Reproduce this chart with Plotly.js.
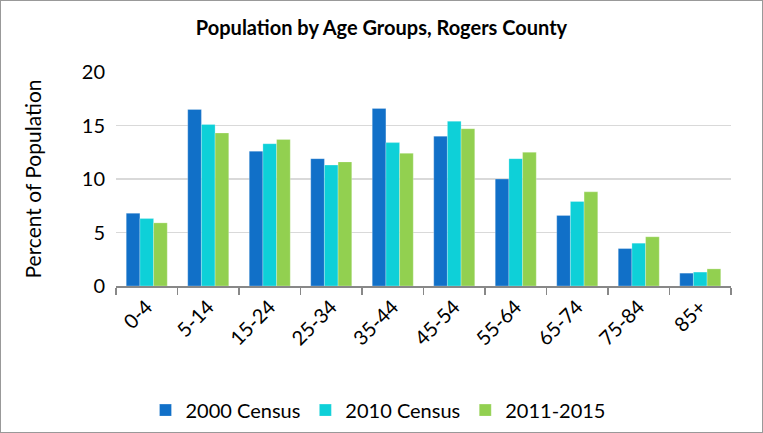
<!DOCTYPE html>
<html><head><meta charset="utf-8">
<script src="https://cdn.plot.ly/plotly-3.0.1.min.js"></script>
<style>
html,body{margin:0;padding:0;background:#fff;}
#wrap{width:761px;height:431px;border:1px solid #999;}
#chart{width:761px;height:431px;}
</style></head>
<body><div id="wrap"><div id="chart"></div></div>
<script>
const categories = ["0-4","5-14","15-24","25-34","35-44","45-54","55-64","65-74","75-84","85+"];
const census2000 = [6.8,16.5,12.6,11.9,16.6,14.0,10.0,6.6,3.5,1.2];
const census2010 = [6.3,15.1,13.3,11.3,13.4,15.4,11.9,7.9,4.0,1.3];
const acs2011_2015 = [5.9,14.3,13.7,11.6,12.4,14.7,12.5,8.8,4.6,1.6];
const seriesNames = ["2000 Census","2010 Census","2011-2015"];
const colors = ["#1170C8","#0ED0D8","#92D050"];
const font = "Lato, 'Liberation Sans', sans-serif";

const data = [census2000, census2010, acs2011_2015].map((vals,i)=>({
  type:"bar", x:categories, y:vals, name:seriesNames[i],
  marker:{color:colors[i], line:{color:"rgba(255,255,255,0.5)", width:0.5}}
}));

const layout = {
  width:761, height:431,
  margin:{l:115, r:31, t:71, b:146, autoexpand:false},
  paper_bgcolor:"#fff", plot_bgcolor:"#fff",
  font:{family:font, color:"#000"},
  title:{text:"<b>Population by Age Groups, Rogers County</b>", font:{size:20, family:font}, x:0.5, xanchor:"center", y:0.937, yanchor:"middle"},
  barmode:"group", bargap:0.333, bargroupgap:0,
  xaxis:{tickangle:-45, tickfont:{size:20, family:font}, showline:true, linecolor:"#888", linewidth:1.5, automargin:false,
         ticks:"outside", tickson:"boundaries", ticklen:7, tickcolor:"#888", tickwidth:1.5, showgrid:false},
  yaxis:{range:[0,20], dtick:5, tickfont:{size:20, family:font}, gridcolor:"#d9d9d9", gridwidth:1.5, automargin:false,
         zeroline:false, showline:false, ticks:"", ticklabelstandoff:10,
         title:{text:"Percent of Population", font:{size:21, family:font}, standoff:34}},
  showlegend:true,
  legend:{orientation:"h", x:0.426, xanchor:"center", y:-0.58, yanchor:"middle", font:{size:20, family:font}, itemwidth:20, traceorder:"normal"}
};
Plotly.newPlot("chart", data, layout, {displayModeBar:false, staticPlot:true});
</script></body></html>
